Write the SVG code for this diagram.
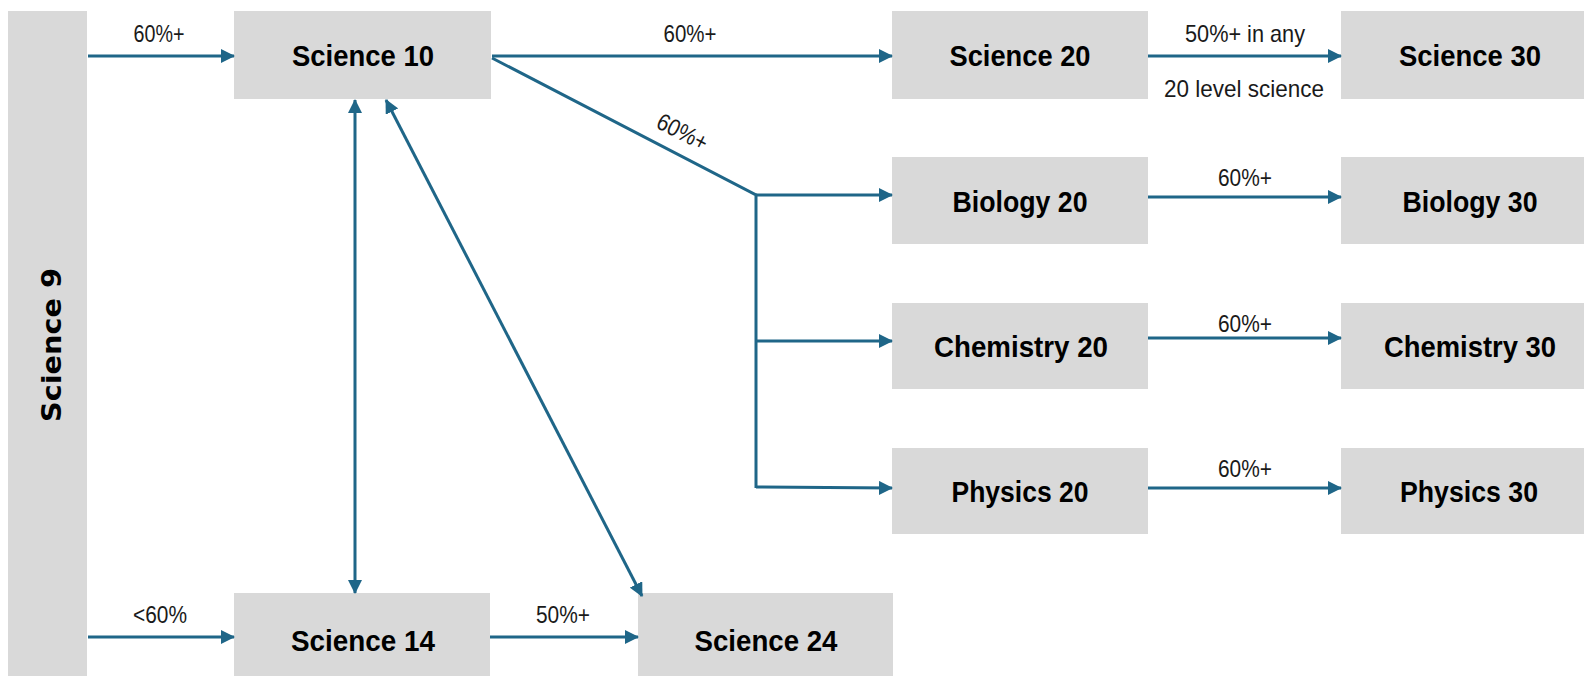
<svg xmlns="http://www.w3.org/2000/svg" width="1584" height="676" viewBox="0 0 1584 676">
<style>
.box{fill:#d9d9d9}
.nt{font-family:"Liberation Sans",Arial,sans-serif;font-weight:bold;font-size:30px;fill:#000;text-anchor:middle}
.lb{font-family:"Liberation Sans",Arial,sans-serif;font-size:24px;fill:#1a1a1a;text-anchor:middle}
.ln{fill:none;stroke:#1f6688;stroke-width:3}
</style>
<defs>
<marker id="ah" markerUnits="userSpaceOnUse" markerWidth="14" markerHeight="14" viewBox="0 0 14 14" refX="13" refY="7" orient="auto-start-reverse">
<path d="M0,0 L14,7 L0,14 z" fill="#1f6688"/>
</marker>
</defs>
<rect width="1584" height="676" fill="#fff"/>
<g id="science9"><rect class="box" x="8" y="11" width="79" height="670"/><text transform="translate(61,345) rotate(-90)" font-family="'DejaVu Sans',sans-serif" font-weight="bold" font-size="27" text-anchor="middle" textLength="154" lengthAdjust="spacingAndGlyphs">Science 9</text></g>
<g id="science10"><rect class="box" x="234" y="11" width="257" height="88"/><text class="nt" x="363" y="66" textLength="142" lengthAdjust="spacingAndGlyphs">Science 10</text></g>
<g id="science20"><rect class="box" x="892" y="11" width="256" height="88"/><text class="nt" x="1020" y="66" textLength="141" lengthAdjust="spacingAndGlyphs">Science 20</text></g>
<g id="science30"><rect class="box" x="1341" y="11" width="250" height="88"/><text class="nt" x="1470" y="66" textLength="142" lengthAdjust="spacingAndGlyphs">Science 30</text></g>
<g id="biology20"><rect class="box" x="892" y="157" width="256" height="87"/><text class="nt" x="1020" y="212" textLength="135" lengthAdjust="spacingAndGlyphs">Biology 20</text></g>
<g id="biology30"><rect class="box" x="1341" y="157" width="250" height="87"/><text class="nt" x="1470" y="212" textLength="135" lengthAdjust="spacingAndGlyphs">Biology 30</text></g>
<g id="chemistry20"><rect class="box" x="892" y="303" width="256" height="86"/><text class="nt" x="1021" y="357" textLength="174" lengthAdjust="spacingAndGlyphs">Chemistry 20</text></g>
<g id="chemistry30"><rect class="box" x="1341" y="303" width="250" height="86"/><text class="nt" x="1470" y="357" textLength="172" lengthAdjust="spacingAndGlyphs">Chemistry 30</text></g>
<g id="physics20"><rect class="box" x="892" y="448" width="256" height="86"/><text class="nt" x="1020" y="502" textLength="137" lengthAdjust="spacingAndGlyphs">Physics 20</text></g>
<g id="physics30"><rect class="box" x="1341" y="448" width="250" height="86"/><text class="nt" x="1469" y="502" textLength="138" lengthAdjust="spacingAndGlyphs">Physics 30</text></g>
<g id="science14"><rect class="box" x="234" y="593" width="256" height="90"/><text class="nt" x="363" y="651" textLength="144" lengthAdjust="spacingAndGlyphs">Science 14</text></g>
<g id="science24"><rect class="box" x="638" y="593" width="255" height="90"/><text class="nt" x="766" y="651" textLength="143" lengthAdjust="spacingAndGlyphs">Science 24</text></g>
<g id="connectors">
<path class="ln" d="M88,56 L234,56" marker-end="url(#ah)"/>
<path class="ln" d="M88,637 L234,637" marker-end="url(#ah)"/>
<path class="ln" d="M492,56 L892,56" marker-end="url(#ah)"/>
<path class="ln" d="M492,58 L756,195 L756,488"/>
<path class="ln" d="M756,195 L892,195" marker-end="url(#ah)"/>
<path class="ln" d="M756,341 L892,341" marker-end="url(#ah)"/>
<path class="ln" d="M756,487 L892,488" marker-end="url(#ah)"/>
<path class="ln" d="M1148,56 L1341,56" marker-end="url(#ah)"/>
<path class="ln" d="M1148,197 L1341,197" marker-end="url(#ah)"/>
<path class="ln" d="M1148,338 L1341,338" marker-end="url(#ah)"/>
<path class="ln" d="M1148,488 L1341,488" marker-end="url(#ah)"/>
<path class="ln" d="M355,100 L355,593" marker-start="url(#ah)" marker-end="url(#ah)"/>
<path class="ln" d="M386,100 L642,596" marker-start="url(#ah)" marker-end="url(#ah)"/>
<path class="ln" d="M490,637 L638,637" marker-end="url(#ah)"/>
<text class="lb" x="159" y="42" textLength="51" lengthAdjust="spacingAndGlyphs">60%+</text>
<text class="lb" x="160" y="623" textLength="54" lengthAdjust="spacingAndGlyphs">&lt;60%</text>
<text class="lb" x="690" y="42" textLength="53" lengthAdjust="spacingAndGlyphs">60%+</text>
<text class="lb" x="682" y="140" textLength="54" lengthAdjust="spacingAndGlyphs" transform="rotate(27 682 133)">60%+</text>
<text class="lb" x="1245" y="42" textLength="120" lengthAdjust="spacingAndGlyphs">50%+ in any</text>
<text class="lb" x="1244" y="97" textLength="160" lengthAdjust="spacingAndGlyphs">20 level science</text>
<text class="lb" x="1245" y="186" textLength="54" lengthAdjust="spacingAndGlyphs">60%+</text>
<text class="lb" x="1245" y="332" textLength="54" lengthAdjust="spacingAndGlyphs">60%+</text>
<text class="lb" x="1245" y="477" textLength="54" lengthAdjust="spacingAndGlyphs">60%+</text>
<text class="lb" x="563" y="623" textLength="54" lengthAdjust="spacingAndGlyphs">50%+</text>
</g>
</svg>
